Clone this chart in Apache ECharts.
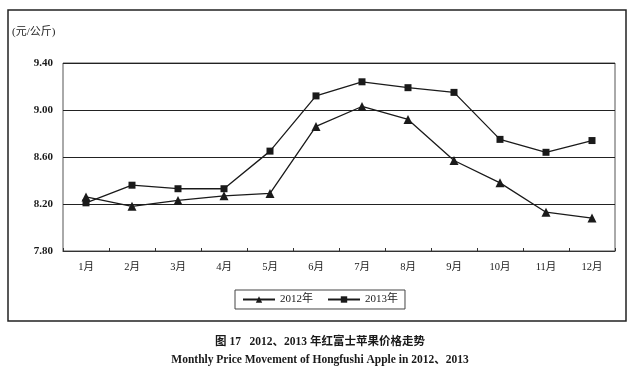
<!DOCTYPE html>
<html>
<head>
    <meta charset='utf-8' />
    <title>红富士苹果价格走势</title>
    <script src="https://cdn.jsdelivr.net/npm/echarts@6/dist/echarts.min.js"></script>
</head>
<body style='margin:0;width:640px;height:377px;background:#fff;'>
<div id='chart' style='width:640px;height:377px;'></div>

<script type='text/javascript'>
    // 月份
    var months = ['1月', '2月', '3月', '4月', '5月', '6月', '7月', '8月', '9月', '10月', '11月', '12月'];
    // 2012年 价格 (元/公斤)
    var price2012 = [8.26, 8.18, 8.23, 8.27, 8.29, 8.86, 9.03, 8.92, 8.57, 8.38, 8.13, 8.08];
    // 2013年
    var price2013 = [8.21, 8.36, 8.33, 8.33, 8.65, 9.12, 9.24, 9.19, 9.15, 8.75, 8.64, 8.74];
    var yTicks = [7.80, 8.20, 8.60, 9.00, 9.40];

    var serif = '"Liberation Serif", "DejaVu Serif", "Noto Sans CJK SC", serif';
    var ink = '#1a1a1a';

    var myChart = echarts.init(document.getElementById('chart'));

    var option = {
        backgroundColor: '#fff',
        animation: false,
        textStyle: { fontFamily: serif, color: ink },
        graphic: [
            {
                type: 'rect',
                shape: { x: 8, y: 10, width: 618, height: 311 },
                style: { fill: 'none', stroke: '#222', lineWidth: 1.5 }
            },
            {
                type: 'text', left: 12, top: 27,
                style: { text: '(元/公斤)', font: '11px ' + serif, fill: ink }
            },
            {
                type: 'text', left: 'center', top: 336,
                style: { text: '图 17   2012、2013 年红富士苹果价格走势', font: 'bold 11.5px ' + serif, fill: ink }
            },
            {
                type: 'text', left: 'center', top: 354,
                style: { text: 'Monthly Price Movement of Hongfushi Apple in 2012、2013', font: 'bold 11.5px ' + serif, fill: ink }
            }
        ],
        grid: {
            left: 63, right: 25, top: 63, bottom: 126,
            show: true, borderColor: '#555', borderWidth: 1
        },
        legend: {
            data: ['2012年', '2013年'],
            top: 290, left: 'center',
            itemWidth: 32, itemHeight: 8, itemGap: 14,
            padding: [4, 7, 4, 7],
            borderColor: '#444', borderWidth: 1,
            textStyle: { fontFamily: serif, fontSize: 11, color: ink }
        },
        xAxis: {
            type: 'category',
            data: months,
            boundaryGap: true,
            axisLine: { lineStyle: { color: '#333', width: 1 } },
            axisTick: { show: true, inside: true, length: 3, lineStyle: { color: '#333' } },
            axisLabel: { fontFamily: serif, fontSize: 10.5, color: ink, margin: 11 }
        },
        yAxis: {
            type: 'value',
            min: yTicks[0], max: yTicks[yTicks.length - 1], interval: 0.4,
            axisLine: { show: false },
            axisTick: { show: false },
            axisLabel: {
                fontFamily: serif, fontSize: 11, fontWeight: 'bold', color: ink, margin: 10,
                formatter: function (v) { return v.toFixed(2); }
            },
            splitLine: { show: true, lineStyle: { color: '#222', width: 1 } }
        },
        series: [
            {
                name: '2012年',
                type: 'line',
                data: price2012,
                symbol: 'triangle',
                symbolSize: 9,
                itemStyle: { color: ink },
                lineStyle: { color: ink, width: 1.3 }
            },
            {
                name: '2013年',
                type: 'line',
                data: price2013,
                symbol: 'rect',
                symbolSize: 7,
                itemStyle: { color: ink },
                lineStyle: { color: ink, width: 1.3 }
            }
        ]
    };

    myChart.setOption(option);
</script>
</body>
</html>
